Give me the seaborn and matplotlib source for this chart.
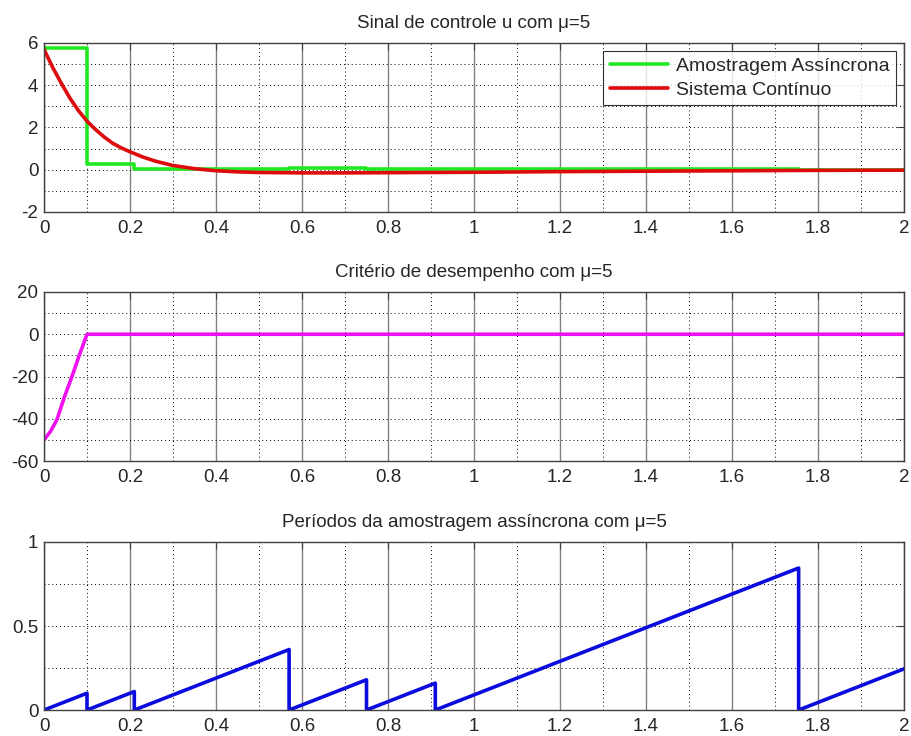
import numpy as np
import pandas as pd
import matplotlib
matplotlib.use('Agg')
import matplotlib.pyplot as plt
from matplotlib.ticker import MultipleLocator, FormatStrFormatter
import seaborn as sns

sns.set_style('white')
plt.rcParams['font.family'] = ['Liberation Sans', 'DejaVu Sans']

# ---------------- dados ----------------
# sinal de controle (amostragem assincrona, degraus)
async_t = [0.0, 0.1, 0.21, 0.57, 0.75, 0.91, 1.755, 2.0]
async_u = [5.75, 0.28, 0.05, 0.06, 0.05, 0.05, 0.0, 0.0]

# sinal de controle (sistema continuo)
cont_t = [0.0, 0.02, 0.04, 0.06, 0.08, 0.1, 0.12, 0.14, 0.16, 0.18, 0.2, 0.23,
          0.26, 0.3, 0.35, 0.4, 0.45, 0.5, 0.6, 0.7, 0.8, 0.9, 1.0, 1.2, 1.4,
          1.6, 1.8, 2.0]
cont_u = [5.7, 4.85, 4.1, 3.4, 2.8, 2.3, 1.9, 1.55, 1.25, 1.03, 0.85, 0.6,
          0.4, 0.2, 0.05, -0.05, -0.1, -0.13, -0.15, -0.15, -0.14, -0.13,
          -0.12, -0.09, -0.07, -0.05, -0.03, -0.02]

# criterio de desempenho
crit_t = [0.0, 0.015, 0.03, 0.047, 0.065, 0.082, 0.1, 2.0]
crit_v = [-50, -46, -40.5, -30, -20, -10, 0, 0]

# periodos da amostragem assincrona (dente de serra)
per_t = [0.0, 0.1, 0.1, 0.21, 0.21, 0.57, 0.57, 0.75, 0.75, 0.91, 0.91,
         1.755, 1.755, 2.0]
per_v = [0.0, 0.1, 0.0, 0.11, 0.0, 0.36, 0.0, 0.18, 0.0, 0.16, 0.0,
         0.845, 0.0, 0.245]

titles = ['Sinal de controle u com μ=5',
          'Critério de desempenho com μ=5',
          'Períodos da amostragem assíncrona com μ=5']

fig = plt.figure(figsize=(9.11, 7.36), dpi=100)
ax1 = fig.add_axes([0.0483, 0.712, 0.944, 0.2296])
ax2 = fig.add_axes([0.0483, 0.3736, 0.944, 0.2297])
ax3 = fig.add_axes([0.0483, 0.0353, 0.944, 0.2283])

lw = 2.6
sns.lineplot(x=async_t, y=async_u, ax=ax1, color='#22e822', linewidth=lw,
             estimator=None, sort=False, drawstyle='steps-post',
             label='Amostragem Assíncrona')
sns.lineplot(x=cont_t, y=cont_u, ax=ax1, color='#dd0b0b', linewidth=lw,
             estimator=None, sort=False, label='Sistema Contínuo')
sns.lineplot(x=crit_t, y=crit_v, ax=ax2, color='#ee11ee', linewidth=lw,
             estimator=None, sort=False)
sns.lineplot(x=per_t, y=per_v, ax=ax3, color='#0b0bdd', linewidth=lw,
             estimator=None, sort=False)

ylims = [(-2, 6), (-60, 20), (0, 1)]
ymaj = [2, 20, 0.5]
for ax, title, yl, ym in zip([ax1, ax2, ax3], titles, ylims, ymaj):
    ax.set_xlim(0, 2)
    ax.set_ylim(*yl)
    ax.xaxis.set_major_locator(MultipleLocator(0.2))
    ax.xaxis.set_minor_locator(MultipleLocator(0.1))
    ax.yaxis.set_major_locator(MultipleLocator(ym))
    ax.yaxis.set_minor_locator(MultipleLocator(ym / 2))
    ax.xaxis.set_major_formatter(FormatStrFormatter('%g'))
    ax.yaxis.set_major_formatter(FormatStrFormatter('%g'))
    ax.grid(True, which='major', axis='x', color='#808080', linestyle='-', linewidth=1)
    ax.grid(True, which='minor', axis='x', color='black', linestyle=(0, (1, 3)), linewidth=0.7)
    ax.grid(True, which='both', axis='y', color='black', linestyle=(0, (1, 3)), linewidth=0.7)
    ax.set_axisbelow(True)
    ax.tick_params(which='major', direction='in', length=5, labelsize=13.5,
                   top=True, right=True, color='#404040')
    ax.tick_params(axis='x', which='major', pad=6)
    ax.tick_params(axis='y', which='major', pad=4)
    ax.tick_params(which='minor', length=0)
    for sp in ax.spines.values():
        sp.set_color('#404040')
        sp.set_linewidth(1)
    ax.set_title(title, fontsize=13.5, pad=11)
    ax.set_xlabel('')
    ax.set_ylabel('')

leg = ax1.legend(loc='upper right', fontsize=14, handlelength=3.0,
                 frameon=True, fancybox=False, borderaxespad=0.4,
                 borderpad=0.35, labelspacing=0.3, handletextpad=0.4)
leg.get_frame().set_edgecolor('black')
leg.get_frame().set_linewidth(0.8)

fig.savefig('out.png', dpi=100)
